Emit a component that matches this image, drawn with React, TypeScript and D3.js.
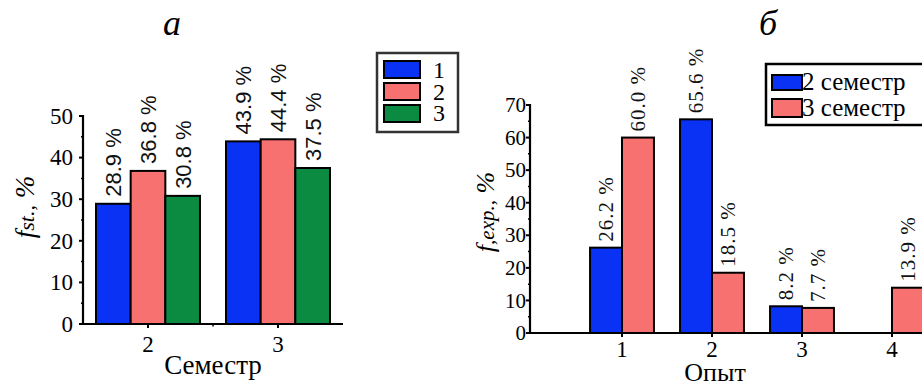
import React from 'react';
import * as d3 from 'd3';

// Panel a: share by semester
const semesters = [2, 3];
const seriesA = ['1', '2', '3'];
const valuesA = [
  [28.9, 36.8, 30.8],
  [43.9, 44.4, 37.5],
];
const ticksA = [0, 10, 20, 30, 40, 50];

// Panel b: share by experience
const experience = [1, 2, 3, 4];
const seriesB = ['2 семестр', '3 семестр'];
const sem2Values: (number | null)[] = [26.2, 65.6, 8.2, null];
const sem3Values: (number | null)[] = [60.0, 18.5, 7.7, 13.9];
const ticksB = [0, 10, 20, 30, 40, 50, 60, 70];

const COLORS = ['#0a32f5', '#f87171', '#0b8a42'];
const SERIF = '"Liberation Serif", "Times New Roman", serif';
const SANS = '"Liberation Sans", Arial, sans-serif';

const App: React.FC = () => {
  // scales, panel a
  const xA = d3.scaleLinear().domain([1.5, 3.5]).range([83, 343]);
  const yA = d3.scaleLinear().domain([0, 50]).range([324, 116]);
  const groupA = 0.8;
  const bwA = groupA / seriesA.length;

  // scales, panel b
  const xB = d3.scaleLinear().domain([0, 5]).range([532, 982]);
  const yB = d3.scaleLinear().domain([0, 70]).range([333, 105]);
  const bwB = 0.355;

  const minorA = d3.range(5, 50, 10);
  const minorB = d3.range(5, 70, 10);

  const bValues = [sem2Values, sem3Values];

  return (
    <svg
      width={922}
      height={387}
      style={{ position: 'absolute', left: 0, top: 0, background: '#fff' }}
    >
      {/* ---------- panel a ---------- */}
      <text x={172} y={35} textAnchor="middle" fontFamily={SERIF} fontStyle="italic" fontSize={36}>
        а
      </text>

      {/* bars */}
      {semesters.map((s, i) =>
        valuesA[i].map((v, j) => {
          const x0 = xA(s - groupA / 2 + j * bwA);
          const x1 = xA(s - groupA / 2 + (j + 1) * bwA);
          return (
            <g key={`a-${i}-${j}`}>
              <rect
                x={x0}
                y={yA(v)}
                width={x1 - x0}
                height={yA(0) - yA(v)}
                fill={COLORS[j]}
                stroke="#000"
                strokeWidth={2}
              />
              <text
                transform={`translate(${(x0 + x1) / 2},${yA(v) - 7}) rotate(-90)`}
                dy="0.36em"
                fontFamily={SANS}
                fontSize={22}
                fill="#111"
              >
                {`${v.toFixed(1)} %`}
              </text>
            </g>
          );
        })
      )}

      {/* axes */}
      <line x1={83} x2={83} y1={yA(50) - 1} y2={yA(0)} stroke="#000" strokeWidth={2.2} />
      <line x1={81} x2={343} y1={yA(0)} y2={yA(0)} stroke="#000" strokeWidth={2.2} />
      {ticksA.map((t) => (
        <g key={`ya-${t}`}>
          <line x1={79} x2={83} y1={yA(t)} y2={yA(t)} stroke="#000" strokeWidth={2} />
          <text x={73} y={yA(t)} dy="0.34em" textAnchor="end" fontFamily={SERIF} fontSize={23}>
            {t}
          </text>
        </g>
      ))}
      {minorA.map((t) => (
        <line key={`ma-${t}`} x1={81} x2={83} y1={yA(t)} y2={yA(t)} stroke="#000" strokeWidth={1.5} />
      ))}
      {semesters.map((s) => (
        <g key={`xa-${s}`}>
          <line x1={xA(s)} x2={xA(s)} y1={yA(0)} y2={yA(0) + 4} stroke="#000" strokeWidth={2} />
          <text x={xA(s)} y={352} textAnchor="middle" fontFamily={SERIF} fontSize={23}>
            {s}
          </text>
        </g>
      ))}
      <line x1={xA(2.5)} x2={xA(2.5)} y1={yA(0)} y2={yA(0) + 2.5} stroke="#000" strokeWidth={1.5} />
      <text x={xA(2.5)} y={374} textAnchor="middle" fontFamily={SERIF} fontSize={27}>
        Семестр
      </text>
      <text
        transform="translate(25,207) rotate(-90)"
        dy="0.35em"
        textAnchor="middle"
        fontFamily={SERIF}
        fontStyle="italic"
        fontSize={27}
      >
        f<tspan fontSize={22}>st.,</tspan> %
      </text>

      {/* legend a */}
      <rect x={377} y={53} width={81} height={79} fill="#fff" stroke="#333" strokeWidth={2.5} />
      {seriesA.map((name, j) => (
        <g key={`la-${name}`}>
          <rect x={384} y={61 + j * 22} width={36} height={17} fill={COLORS[j]} stroke="#000" strokeWidth={2} />
          <text x={439} y={[78, 100, 121][j]} textAnchor="middle" fontFamily={SERIF} fontSize={24}>
            {name}
          </text>
        </g>
      ))}

      {/* ---------- panel b ---------- */}
      <text x={768} y={35} textAnchor="middle" fontFamily={SERIF} fontStyle="italic" fontSize={36}>
        б
      </text>

      {experience.map((e, i) =>
        bValues.map((vals, j) => {
          const v = vals[i];
          if (v == null) return null;
          const x0 = xB(e - bwB + j * bwB);
          const x1 = xB(e + j * bwB);
          return (
            <g key={`b-${i}-${j}`}>
              <rect
                x={x0}
                y={yB(v)}
                width={x1 - x0}
                height={yB(0) - yB(v)}
                fill={COLORS[j]}
                stroke="#000"
                strokeWidth={2}
              />
              <text
                transform={`translate(${(x0 + x1) / 2},${yB(v) - 6}) rotate(-90)`}
                dy="0.34em"
                fontFamily={SERIF}
                fontSize={21}
                letterSpacing={1}
                fill="#111"
              >
                {`${v.toFixed(1)} %`}
              </text>
            </g>
          );
        })
      )}

      <line x1={530} x2={530} y1={yB(70) - 1} y2={yB(0)} stroke="#000" strokeWidth={2.2} />
      <line x1={528} x2={922} y1={yB(0)} y2={yB(0)} stroke="#000" strokeWidth={2.2} />
      {ticksB.map((t) => (
        <g key={`yb-${t}`}>
          <line x1={526} x2={530} y1={yB(t)} y2={yB(t)} stroke="#000" strokeWidth={2} />
          <text x={526} y={yB(t)} dy="0.34em" textAnchor="end" fontFamily={SERIF} fontSize={21}>
            {t}
          </text>
        </g>
      ))}
      {minorB.map((t) => (
        <line key={`mb-${t}`} x1={528} x2={530} y1={yB(t)} y2={yB(t)} stroke="#000" strokeWidth={1.5} />
      ))}
      {experience.map((e) => (
        <g key={`xb-${e}`}>
          <line x1={xB(e)} x2={xB(e)} y1={yB(0)} y2={yB(0) + 4} stroke="#000" strokeWidth={2} />
          <text x={xB(e)} y={357} textAnchor="middle" fontFamily={SERIF} fontSize={23}>
            {e}
          </text>
        </g>
      ))}
      <text x={715} y={381} textAnchor="middle" fontFamily={SERIF} fontSize={26}>
        Опыт
      </text>
      <text
        transform="translate(485,212) rotate(-90)"
        dy="0.35em"
        textAnchor="middle"
        fontFamily={SERIF}
        fontStyle="italic"
        fontSize={26}
      >
        f<tspan fontSize={21}>,exp.,</tspan> %
      </text>

      {/* legend b */}
      <rect x={766} y={64} width={160} height={61} fill="#fff" stroke="#000" strokeWidth={2.5} />
      {seriesB.map((name, j) => (
        <g key={`lb-${name}`}>
          <rect x={772} y={75 + j * 24} width={30} height={15 + j * 3} fill={COLORS[j]} stroke="#000" strokeWidth={2} />
          <text x={802} y={[90, 116][j]} fontFamily={SERIF} fontSize={25}>
            {name}
          </text>
        </g>
      ))}
    </svg>
  );
};

export default App;
